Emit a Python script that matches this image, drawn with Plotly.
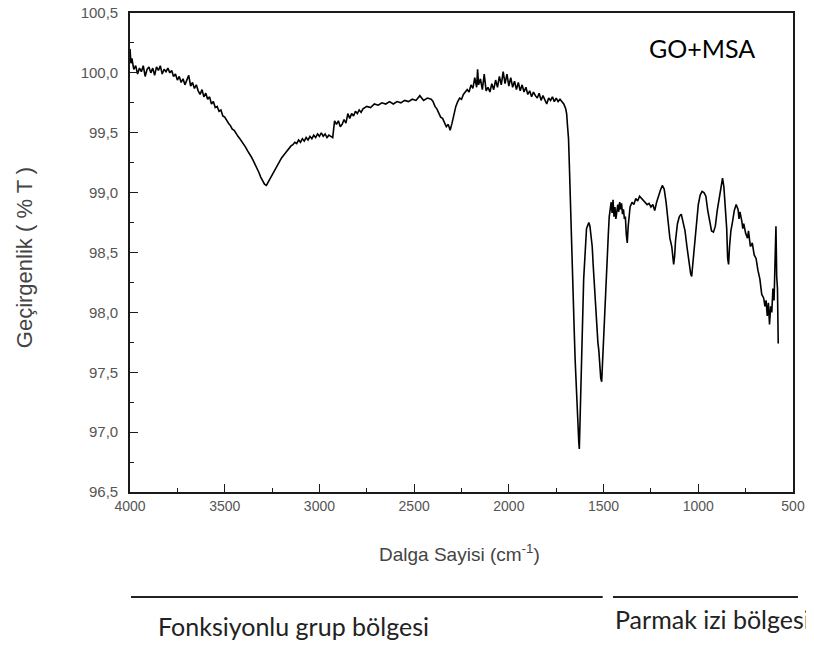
import plotly.graph_objects as go

# ---- data (wavenumber cm-1, transmittance %T) ----
wavenumber = [
    4000, 3995, 3990, 3980, 3970, 3960, 3950, 3940, 3930, 3920, 3910, 3900, 3890, 3880, 3870,
    3860, 3850, 3840, 3830, 3820, 3810, 3800, 3790, 3780, 3770, 3760, 3750, 3740, 3730, 3720,
    3710, 3700, 3690, 3680, 3670, 3660, 3650, 3640, 3630, 3620, 3610, 3600, 3590, 3580, 3570,
    3560, 3550, 3540, 3530, 3520, 3510, 3500, 3490, 3480, 3470, 3460, 3450, 3440, 3430, 3420,
    3410, 3400, 3390, 3380, 3370, 3360, 3350, 3340, 3330, 3320, 3310, 3300, 3290, 3280, 3270,
    3260, 3250, 3240, 3230, 3220, 3210, 3200, 3190, 3180, 3170, 3160, 3150, 3140, 3130, 3120,
    3110, 3100, 3090, 3080, 3070, 3060, 3050, 3040, 3030, 3020, 3010, 3000, 2990, 2980, 2970,
    2960, 2950, 2940, 2930, 2920, 2910, 2900, 2890, 2880, 2870, 2860, 2850, 2840, 2830, 2820,
    2810, 2800, 2790, 2780, 2770, 2750, 2730, 2710, 2690, 2670, 2650, 2630, 2610, 2590, 2570,
    2550, 2530, 2510, 2490, 2470, 2450, 2430, 2410, 2400, 2390, 2380, 2370, 2360, 2350, 2340,
    2330, 2320, 2310, 2300, 2290, 2280, 2270, 2260, 2250, 2240, 2230, 2220, 2210, 2200, 2190,
    2180, 2170, 2165, 2160, 2150, 2140, 2130, 2120, 2110, 2100, 2090, 2080, 2070, 2060, 2050,
    2040, 2030, 2020, 2010, 2000, 1990, 1980, 1970, 1960, 1950, 1940, 1930, 1920, 1910, 1900,
    1890, 1880, 1870, 1860, 1850, 1840, 1830, 1820, 1810, 1800, 1790, 1780, 1770, 1760, 1750,
    1740, 1730, 1720, 1710, 1700, 1695, 1690, 1685, 1680, 1676, 1672, 1668, 1664, 1660, 1655,
    1650, 1645, 1640, 1635, 1631, 1628, 1625, 1620, 1615, 1610, 1605, 1600, 1595, 1590, 1585,
    1578, 1572, 1565, 1560, 1555, 1550, 1545, 1540, 1535, 1530, 1525, 1520, 1515, 1510, 1505,
    1500, 1495, 1490, 1485, 1480, 1475, 1470, 1465, 1460, 1455, 1450, 1445, 1440, 1435, 1430,
    1425, 1420, 1415, 1410, 1405, 1400, 1395, 1390, 1385, 1380, 1375, 1370, 1365, 1360, 1350,
    1340, 1330, 1320, 1310, 1300, 1290, 1280, 1270, 1260, 1250, 1240, 1230, 1220, 1210, 1200,
    1190, 1180, 1170, 1160, 1150, 1140, 1135, 1130, 1125, 1120, 1110, 1100, 1090, 1080, 1070,
    1060, 1050, 1040, 1035, 1030, 1020, 1010, 1000, 990, 980, 970, 960, 950, 940, 930,
    920, 910, 900, 890, 880, 872, 865, 857, 850, 845, 840, 835, 828, 820, 810,
    800, 790, 785, 780, 770, 765, 760, 750, 740, 735, 725, 715, 705, 695, 685,
    675, 665, 655, 648, 642, 636, 630, 624, 618, 612, 606, 600, 595, 590, 586,
    582, 578,
]
transmittance = [
    100.20, 100.08, 100.12, 100.03, 100.06, 99.99, 100.04, 100.01, 100.06, 99.97, 100.03, 100.05, 100.00, 100.04, 99.98,
    100.05, 100.02, 100.06, 99.99, 100.03, 100.01, 100.04, 100.00, 100.02, 99.97, 99.99, 99.94, 99.97, 99.92, 99.95,
    99.90, 99.94, 99.98, 99.89, 99.92, 99.87, 99.90, 99.85, 99.82, 99.86, 99.80, 99.83, 99.78, 99.80, 99.74,
    99.76, 99.71, 99.72, 99.68, 99.69, 99.64, 99.63, 99.60, 99.58, 99.56, 99.53, 99.52, 99.49, 99.47, 99.45,
    99.43, 99.40, 99.38, 99.35, 99.33, 99.30, 99.27, 99.24, 99.20, 99.17, 99.13, 99.10, 99.07, 99.06, 99.09,
    99.12, 99.15, 99.18, 99.21, 99.24, 99.26, 99.29, 99.31, 99.33, 99.36, 99.37, 99.39, 99.40, 99.42, 99.41,
    99.44, 99.42, 99.45, 99.43, 99.46, 99.44, 99.47, 99.45, 99.48, 99.46, 99.49, 99.47, 99.50, 99.47, 99.49,
    99.46, 99.48, 99.47, 99.46, 99.60, 99.57, 99.60, 99.55, 99.57, 99.61, 99.58, 99.66, 99.62, 99.66, 99.64,
    99.68, 99.66, 99.69, 99.67, 99.70, 99.72, 99.71, 99.74, 99.73, 99.75, 99.74, 99.76, 99.74, 99.76, 99.75,
    99.77, 99.76, 99.78, 99.77, 99.81, 99.77, 99.79, 99.78, 99.76, 99.72, 99.70, 99.66, 99.63, 99.62, 99.58,
    99.55, 99.57, 99.52, 99.58, 99.66, 99.72, 99.76, 99.79, 99.78, 99.82, 99.84, 99.86, 99.84, 99.90, 99.87,
    99.96, 99.88, 100.03, 99.90, 99.95, 99.86, 99.99, 99.85, 99.88, 99.84, 99.91, 99.86, 99.94, 99.88, 99.97,
    99.90, 100.01, 99.91, 99.99, 99.89, 99.96, 99.88, 99.93, 99.86, 99.92, 99.85, 99.90, 99.84, 99.88, 99.82,
    99.85, 99.80, 99.84, 99.81, 99.79, 99.83, 99.77, 99.81, 99.78, 99.74, 99.79, 99.77, 99.80, 99.76, 99.79,
    99.76, 99.78, 99.76, 99.74, 99.70, 99.66, 99.55, 99.45, 99.20, 98.95, 98.74, 98.50, 98.25, 98.10, 97.85,
    97.60, 97.40, 97.18, 97.05, 96.92, 96.86, 97.05, 97.50, 97.85, 98.10, 98.28, 98.42, 98.58, 98.70, 98.72,
    98.75, 98.72, 98.62, 98.55, 98.40, 98.25, 98.10, 98.00, 97.90, 97.75, 97.68, 97.55, 97.45, 97.42, 97.60,
    97.85, 98.05, 98.20, 98.35, 98.45, 98.65, 98.80, 98.88, 98.92, 98.83, 98.94, 98.80, 98.88, 98.78, 98.86,
    98.90, 98.84, 98.92, 98.86, 98.91, 98.82, 98.86, 98.78, 98.80, 98.65, 98.58, 98.72, 98.85, 98.88, 98.92,
    98.90, 98.95, 98.93, 98.97, 98.95, 98.93, 98.92, 98.90, 98.91, 98.88, 98.90, 98.85, 98.92, 98.98, 99.02,
    99.06, 99.03, 98.92, 98.75, 98.62, 98.55, 98.45, 98.40, 98.47, 98.60, 98.74, 98.80, 98.82, 98.75, 98.68,
    98.55, 98.42, 98.32, 98.30, 98.38, 98.55, 98.72, 98.90, 98.98, 99.01, 99.00, 98.97, 98.85, 98.75, 98.68,
    98.67, 98.72, 98.85, 98.95, 99.05, 99.12, 99.05, 98.90, 98.70, 98.45, 98.40, 98.55, 98.68, 98.75, 98.85,
    98.90, 98.86, 98.78, 98.84, 98.76, 98.70, 98.74, 98.66, 98.62, 98.68, 98.55, 98.58, 98.48, 98.45, 98.35,
    98.28, 98.15, 98.12, 98.05, 98.10, 97.97, 98.08, 97.90, 98.05, 98.00, 98.20, 98.10, 98.35, 98.72, 98.30,
    98.20, 97.74,
]

x_tickvals = [4000, 3500, 3000, 2500, 2000, 1500, 1000, 500]
x_ticktext = ["4000", "3500", "3000", "2500", "2000", "1500", "1000", "500"]
y_tickvals = [96.5, 97.0, 97.5, 98.0, 98.5, 99.0, 99.5, 100.0, 100.5]
y_ticktext = ["96,5", "97,0", "97,5", "98,0", "98,5", "99,0", "99,5", "100,0", "100,5"]

sample_label = "GO+MSA"
x_title = "Dalga Sayisi (cm<sup>-1</sup>)"
y_title = "Geçirgenlik ( % T )"
region_labels = ["Fonksiyonlu grup bölgesi", "Parmak izi bölgesi"]

fig = go.Figure()
fig.add_trace(go.Scatter(
    x=wavenumber, y=transmittance, mode="lines",
    line=dict(color="black", width=1.6), showlegend=False, hoverinfo="skip",
))

arial = "Liberation Sans, Arial, sans-serif"
axis_common = dict(
    showgrid=False, zeroline=False, showline=True, linecolor="#1a1a1a", linewidth=1.6,
    mirror=True, ticks="inside", ticklen=8, tickwidth=1.4, tickcolor="#1a1a1a",
    ticklabeloverflow="allow",
)

fig.update_xaxes(
    range=[4000, 500], tickmode="array", tickvals=x_tickvals, ticktext=x_ticktext,
    tickfont=dict(family=arial, size=14, color="#555555"),
    minor=dict(tickmode="linear", tick0=250, dtick=500, ticks="inside", ticklen=4,
               tickwidth=1.3, tickcolor="#1a1a1a"),
    **axis_common,
)
fig.update_yaxes(
    range=[96.5, 100.5], tickmode="array", tickvals=y_tickvals, ticktext=y_ticktext,
    tickfont=dict(family=arial, size=15, color="#555555"), ticklabelstandoff=7,
    minor=dict(tickmode="linear", tick0=96.75, dtick=0.5, ticks="inside", ticklen=4,
               tickwidth=1.3, tickcolor="#1a1a1a"),
    **axis_common,
)

label_font = "Lato, Open Sans, sans-serif"
common_ann = dict(xref="paper", yref="paper", showarrow=False, xanchor="center", yanchor="middle")
annotations = [
    dict(text=sample_label, x=0.862, y=0.927,
         font=dict(family=label_font, size=25, color="black"), **common_ann),
    dict(text=x_title, x=0.497, y=-0.127,
         font=dict(family=arial, size=19, color="#444444"), **common_ann),
    dict(text=y_title, x=-0.16, y=0.49, textangle=-90,
         font=dict(family=arial, size=22, color="#444444"), **common_ann),
    dict(text=region_labels[0], x=0.246, y=-0.279,
         font=dict(family=label_font, size=25, color="#222222"), **common_ann),
    dict(text=region_labels[1], x=0.879, y=-0.266,
         font=dict(family=label_font, size=25, color="#222222"), **common_ann),
]

shapes = [
    dict(type="line", xref="paper", yref="paper", x0=0.0015, x1=0.713, y0=-0.219, y1=-0.219,
         line=dict(color="#222222", width=2)),
    dict(type="line", xref="paper", yref="paper", x0=0.7285, x1=1.0075, y0=-0.219, y1=-0.219,
         line=dict(color="#222222", width=2)),
]

# the page body adds a small offset; margins compensate so the plot area lands
# at the reference's pixel position
fig.update_layout(
    width=814, height=648,
    margin=dict(l=122, r=29, t=5, b=164, autoexpand=False),
    paper_bgcolor="white", plot_bgcolor="white",
    annotations=annotations, shapes=shapes,
)

fig.write_html("out.html")
